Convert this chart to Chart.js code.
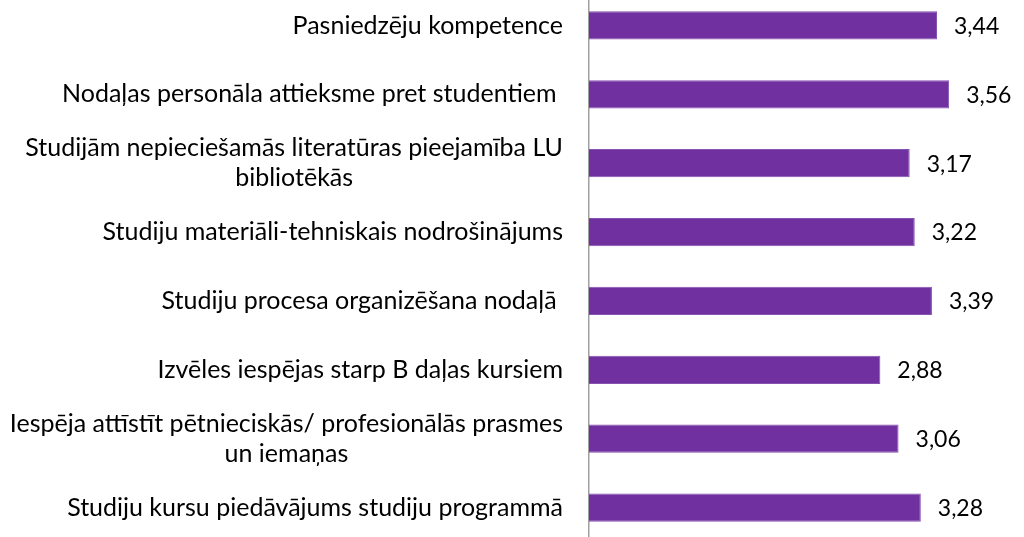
<!DOCTYPE html>
<html>
<head>
<meta charset="utf-8">
<script src="https://cdn.jsdelivr.net/npm/chart.js@4"></script>
<style>
  html, body { margin: 0; padding: 0; background: #fff; overflow: hidden; }
  #wrap { position: absolute; left: 0; top: -9px; width: 1024px; height: 551px; }
</style>
</head>
<body>
<div id="wrap"><canvas id="bars"></canvas></div>
<script>
var categories = [
  "Pasniedzēju kompetence",
  "Nodaļas personāla attieksme pret studentiem ",
  ["Studijām nepieciešamās literatūras pieejamība LU", "bibliotēkās"],
  "Studiju materiāli-tehniskais nodrošinājums",
  "Studiju procesa organizēšana nodaļā ",
  "Izvēles iespējas starp B daļas kursiem",
  ["Iespēja attīstīt pētnieciskās/ profesionālās prasmes", "un iemaņas"],
  "Studiju kursu piedāvājums studiju programmā"
];
var values = [3.44, 3.56, 3.17, 3.22, 3.39, 2.88, 3.06, 3.28];

var labelFont = "25px Lato";
var valueFont = "23px Lato";

// category labels: block right-aligned, lines centred inside the block (like Excel)
var labelPlugin = {
  id: "labelPlugin",
  afterDraw: function(chart) {
    var ctx = chart.ctx;
    var yScale = chart.scales.y;
    var xScale = chart.scales.x;
    ctx.save();
    ctx.fillStyle = "#000";
    ctx.textBaseline = "middle";
    ctx.font = labelFont;
    ctx.textAlign = "center";
    var right = chart.chartArea.left - 26;
    categories.forEach(function(lab, i) {
      var lines = Array.isArray(lab) ? lab : [lab];
      var w = 0;
      lines.forEach(function(l) { w = Math.max(w, ctx.measureText(l).width); });
      var cy = yScale.getPixelForTick(i);
      var lh = 30;
      var y0 = cy - (lines.length - 1) * lh / 2;
      lines.forEach(function(l, j) {
        ctx.fillText(l, right - w / 2, y0 + j * lh);
      });
    });
    ctx.font = valueFont;
    ctx.textAlign = "left";
    values.forEach(function(v, i) {
      var x = xScale.getPixelForValue(v) + 17;
      var y = yScale.getPixelForTick(i) + 1;
      ctx.fillText(v.toFixed(2).replace(".", ","), x, y);
    });
    ctx.restore();
  }
};

var ctx = document.getElementById("bars").getContext("2d");
var chart = new Chart(ctx, {
  type: "bar",
  data: {
    labels: categories,
    datasets: [{
      data: values,
      backgroundColor: "#7030A0",
      borderColor: "#8652B0",
      borderWidth: 1,
      barPercentage: 0.41,
      categoryPercentage: 1
    }]
  },
  options: {
    indexAxis: "y",
    responsive: true,
    maintainAspectRatio: false,
    animation: false,
    layout: { padding: 0 },
    plugins: { legend: { display: false }, tooltip: { enabled: false } },
    scales: {
      x: { display: false, min: 0, max: 4.3 },
      y: {
        grid: { display: false },
        border: { display: true, color: "#A0A0A0", width: 1.5 },
        ticks: { display: false },
        afterFit: function(s) { s.width = 589; }
      }
    }
  },
  plugins: [labelPlugin]
});
</script>
</body>
</html>
